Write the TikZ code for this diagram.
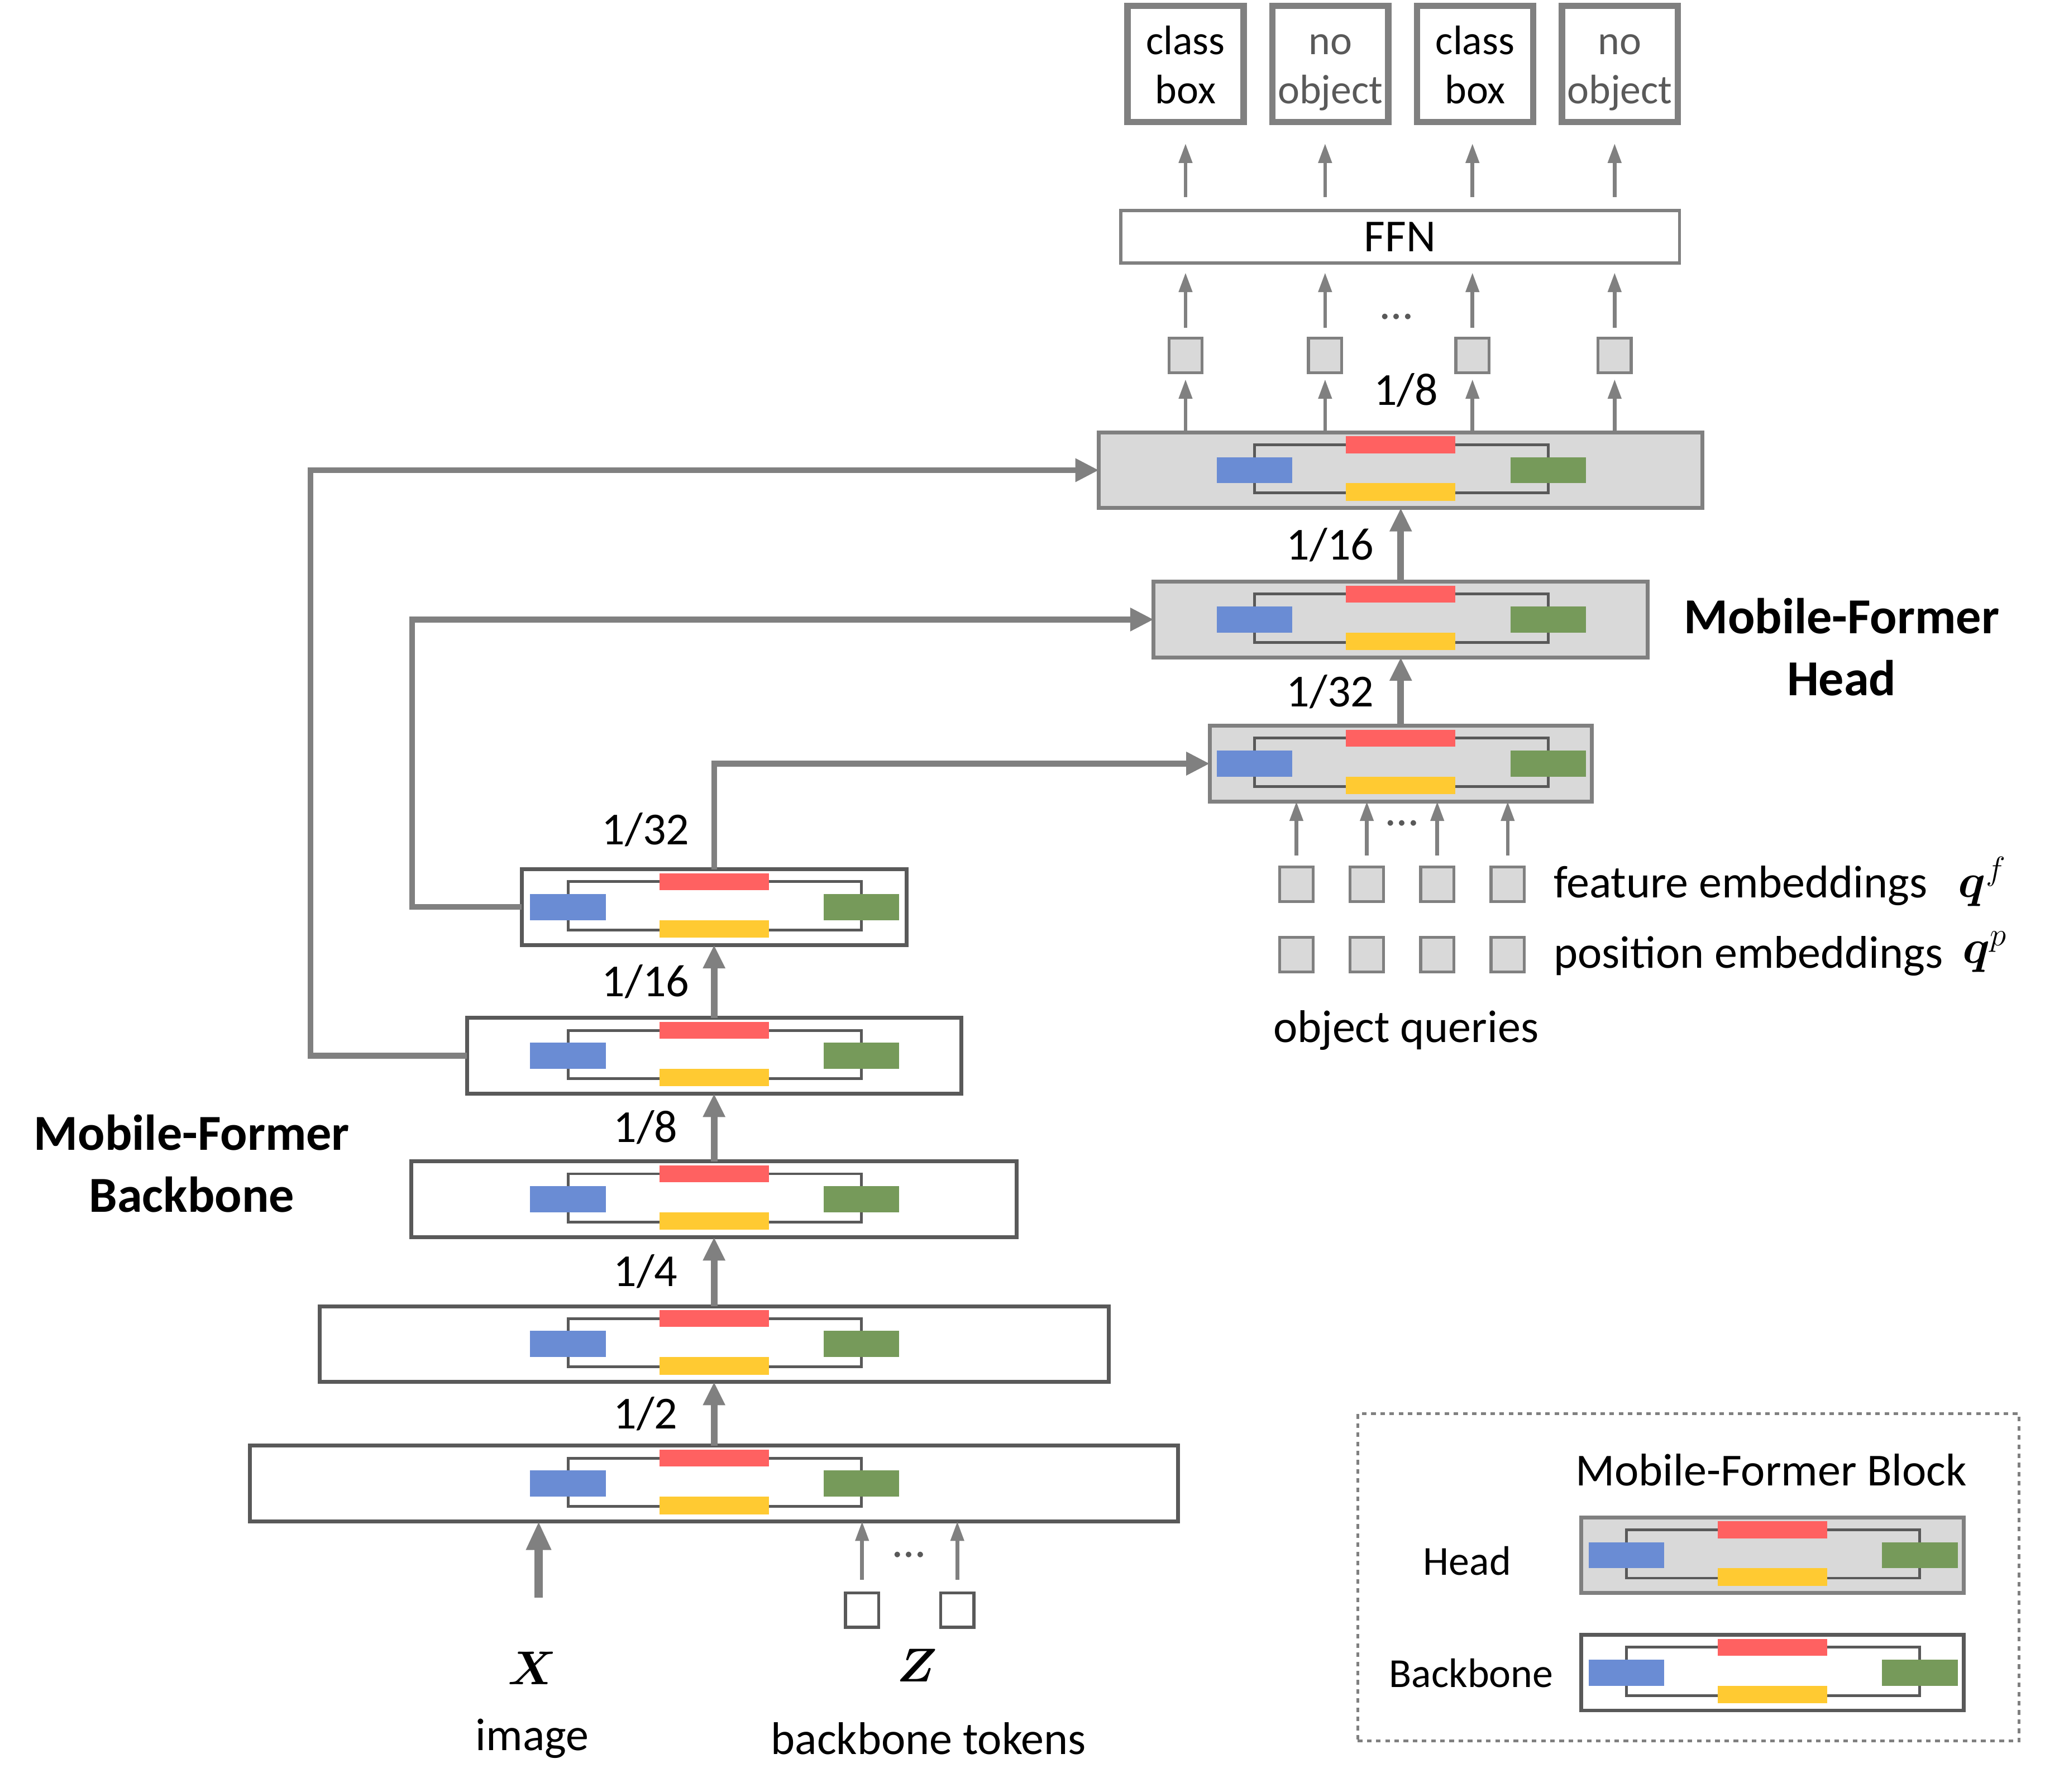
\documentclass[tikz,border=0pt]{standalone}
\usepackage{amsmath}
\usepackage{fontspec}
\setmainfont{Carlito}
\usepackage{tikz}
\usetikzlibrary{positioning}
\usetikzlibrary{arrows.meta}

\definecolor{mfblue}{RGB}{106,140,212}
\definecolor{mfred}{RGB}{255,97,97}
\definecolor{mfyellow}{RGB}{255,202,50}
\definecolor{mfgreen}{RGB}{118,154,90}
\definecolor{darkline}{RGB}{89,89,89}
\definecolor{midgray}{RGB}{128,128,128}
\definecolor{lightfill}{RGB}{217,217,217}

% inside of one Mobile-Former block, drawn round the block node #1
\newcommand{\mfinner}[1]{
    \draw[line width = 1.2pt, darkline] ([shift={(-112,-19.5)}]#1.center) rectangle ([shift={(113,17.5)}]#1.center);
    \fill[mfred] ([shift={(-42,-26)}]#1.center) rectangle ([shift={(42,-13)}]#1.center);
    \fill[mfyellow] ([shift={(-42,10)}]#1.center) rectangle ([shift={(42,23.5)}]#1.center);
    \fill[mfblue] ([shift={(-141,-10)}]#1.center) rectangle ([shift={(-83,10)}]#1.center);
    \fill[mfgreen] ([shift={(84,-10)}]#1.center) rectangle ([shift={(142,10)}]#1.center);
}
% two lines in an output box
\newcommand{\outtext}[2]{\rule{0pt}{19.6pt}#1\\#2\strut}

\begin{document}
\begin{tikzpicture}[
        x = 0.02cm, y = -0.02cm,
        bbblock/.style = {
            draw = darkline,
            line width = 1.7pt,
            fill = white,
            minimum height = 1.16cm,
            inner sep = 0pt,
            outer sep = 0pt
        },
        headblock/.style = {
            draw = midgray,
            line width = 1.7pt,
            fill = lightfill,
            minimum height = 1.16cm,
            inner sep = 0pt,
            outer sep = 0pt
        },
        token/.style = {
            draw = #1,
            line width = 1.3pt,
            fill = lightfill,
            minimum width = 0.51cm,
            minimum height = 0.53cm,
            inner sep = 0pt,
            outer sep = 0pt
        },
        token/.default = midgray,
        outbox/.style = {
            draw = midgray,
            line width = 2.8pt,
            minimum size = 1.78cm,
            inner sep = 0pt,
            align = center,
            font = \fontsize{18}{21.6}\selectfont
        },
        thinarrow/.style = {-{Triangle[length = 0.3cm, width = 0.2cm]}, line width = 1.6pt, midgray},
        thickarrow/.style = {-{Triangle[length = 0.36cm, width = 0.32cm]}, line width = 3pt, midgray},
        linkarrow/.style = {-{Triangle[length = 0.36cm, width = 0.34cm]}, line width = 2.5pt, midgray},
        txt/.style = {font = \fontsize{20}{24}\selectfont, text = black, inner sep = 0pt},
        smalltxt/.style = {font = \fontsize{18}{22}\selectfont, text = black, inner sep = 0pt},
        dots/.style = {font = \fontsize{20}{24}\selectfont, text = darkline, inner sep = 0pt},
        headline/.style = {font = \bfseries\fontsize{22}{27}\selectfont, align = center, inner sep = 0pt}
        ]
        \useasboundingbox (0,0) rectangle (1568,1374);
%
% backbone blocks
        \node[bbblock, minimum width = 14.24cm] (b1) at (547.5,1137.5) {};
        \node[bbblock, minimum width = 12.1cm] (b2) at (547.5,1030.5) {};
        \node[bbblock, minimum width = 9.28cm] (b3) at (547.5,919.5) {};
        \node[bbblock, minimum width = 7.58cm] (b4) at (547.5,809.5) {};
        \node[bbblock, minimum width = 5.9cm] (b5) at (547.5,695.5) {};
%
% head blocks
        \node[headblock, minimum width = 5.86cm] (h1) at (1074,585.5) {};
        \node[headblock, minimum width = 7.58cm] (h2) at (1074,475) {};
        \node[headblock, minimum width = 9.26cm] (h3) at (1074,360.5) {};
%
        \mfinner{b1}
        \mfinner{b2}
        \mfinner{b3}
        \mfinner{b4}
        \mfinner{b5}
        \mfinner{h1}
        \mfinner{h2}
        \mfinner{h3}
%
        \node[headline] (bbtitle) at (147,892) {Mobile-Former\\Backbone};
        \node[headline] (hdtitle) at (1412,496) {Mobile-Former\\Head};
%
% strides along the backbone
        \draw[thickarrow] (b1.north) -- (b2.south) node[txt, midway, xshift = -1.05cm] {1/2};
        \draw[thickarrow] (b2.north) -- (b3.south) node[txt, midway, xshift = -1.05cm] {1/4};
        \draw[thickarrow] (b3.north) -- (b4.south) node[txt, midway, xshift = -1.05cm] {1/8};
        \draw[thickarrow] (b4.north) -- (b5.south) node[txt, midway, xshift = -1.05cm] {1/16};
        \node[txt] (s32) at (495,636) {1/32};
%
        \draw[thickarrow] (h1.north) -- (h2.south) node[txt, midway, xshift = -1.08cm] {1/32};
        \draw[thickarrow] (h2.north) -- (h3.south) node[txt, midway, xshift = -1.08cm] {1/16};
%
% backbone to head
        \draw[linkarrow] (b5.north) |- (h1.west);
        \draw[linkarrow] (b5.west) -- ++(-84,0) |- (h2.west);
        \draw[linkarrow] (b4.west) -- ++(-120,0) |- (h3.west);
%
% inputs of the backbone
        \coordinate (xin) at (413,1225);
        \draw[-{Triangle[length = 0.44cm, width = 0.36cm]}, line width = 3.5pt, midgray] (xin) -- (xin |- b1.south);
        \node[token = darkline, fill = white] (z1) at (661,1234.5) {};
        \node[token = darkline, fill = white] (z2) at (734,1234.5) {};
        \draw[thinarrow, shorten <= 0.2cm] (z1.north) -- (z1 |- b1.south);
        \draw[thinarrow, shorten <= 0.2cm] (z2.north) -- (z2 |- b1.south);
        \node[dots] (zdots) at (697,1192) {\ldots};
%
        \node[txt] (xsym) at (408,1279) {$\boldsymbol{X}$};
        \node[txt] (zsym) at (703,1277) {$\boldsymbol{Z}$};
        \node[txt] (image) at (408,1333) {image};
        \node[txt] (tokens) at (712,1333) {backbone tokens};
%
% object queries
        \node[token] (qf1) at (994,678) {};
        \node[token] (qf2) at (1048,678) {};
        \node[token] (qf3) at (1102,678) {};
        \node[token] (qf4) at (1156,678) {};
        \node[token] (qp1) at (994,732) {};
        \node[token] (qp2) at (1048,732) {};
        \node[token] (qp3) at (1102,732) {};
        \node[token] (qp4) at (1156,732) {};
%
        \draw[thinarrow, shorten <= 0.18cm] (qf1.north) -- (qf1 |- h1.south);
        \draw[thinarrow, shorten <= 0.18cm] (qf2.north) -- (qf2 |- h1.south);
        \draw[thinarrow, shorten <= 0.18cm] (qf3.north) -- (qf3 |- h1.south);
        \draw[thinarrow, shorten <= 0.18cm] (qf4.north) -- (qf4 |- h1.south);
        \node[dots] (qdots) at (1075,631) {\ldots};
%
        \node[txt, anchor = west] (feat) at (1191,679) {feature embeddings};
        \node[txt] (qfsym) at (1520,676) {$\boldsymbol{q}^{f}$};
        \node[txt, anchor = west] (pos) at (1191,733) {position embeddings};
        \node[txt] (qpsym) at (1522,730) {$\boldsymbol{q}^{p}$};
        \node[txt] (queries) at (1078,790) {object queries};
%
% outputs of the head
        \node[token] (t1) at (909,272.5) {};
        \node[token] (t2) at (1016,272.5) {};
        \node[token] (t3) at (1129,272.5) {};
        \node[token] (t4) at (1238,272.5) {};
        \node[txt] (s8) at (1078,299) {1/8};
%
        \draw[thinarrow, shorten >= 0.1cm] (t1 |- h3.north) -- (t1.south);
        \draw[thinarrow, shorten >= 0.1cm] (t2 |- h3.north) -- (t2.south);
        \draw[thinarrow, shorten >= 0.1cm] (t3 |- h3.north) -- (t3.south);
        \draw[thinarrow, shorten >= 0.1cm] (t4 |- h3.north) -- (t4.south);
%
        \node[draw = midgray, line width = 1.4pt, minimum width = 8.57cm, minimum height = 0.81cm, txt] (ffn) at (1073.5,181.5) {FFN};
        \node[dots] (tdots) at (1071,243) {\ldots};
%
        \draw[thinarrow, shorten <= 0.16cm, shorten >= 0.12cm] (t1.north) -- (t1 |- ffn.south);
        \draw[thinarrow, shorten <= 0.16cm, shorten >= 0.12cm] (t2.north) -- (t2 |- ffn.south);
        \draw[thinarrow, shorten <= 0.16cm, shorten >= 0.12cm] (t3.north) -- (t3 |- ffn.south);
        \draw[thinarrow, shorten <= 0.16cm, shorten >= 0.12cm] (t4.north) -- (t4 |- ffn.south);
%
        \node[outbox] (out1) at (909,49) {\outtext{class}{box}};
        \node[outbox, text = darkline] (out2) at (1020,49) {\outtext{no}{object}};
        \node[outbox] (out3) at (1131,49) {\outtext{class}{box}};
        \node[outbox, text = darkline] (out4) at (1242,49) {\outtext{no}{object}};
%
        \draw[thinarrow, shorten <= 0.18cm, shorten >= 0.28cm] (t1 |- ffn.north) -- (t1 |- out1.south);
        \draw[thinarrow, shorten <= 0.18cm, shorten >= 0.28cm] (t2 |- ffn.north) -- (t2 |- out2.south);
        \draw[thinarrow, shorten <= 0.18cm, shorten >= 0.28cm] (t3 |- ffn.north) -- (t3 |- out3.south);
        \draw[thinarrow, shorten <= 0.18cm, shorten >= 0.28cm] (t4 |- ffn.north) -- (t4 |- out4.south);
%
% legend
        \node[draw = midgray, line width = 1.2pt, dash pattern = on 2pt off 2pt, minimum width = 10.14cm, minimum height = 5.02cm] (legend) at (1294.5,1209.5) {};
        \node[txt] (legtitle) at (1358,1127) {Mobile-Former Block};
        \node[headblock, minimum width = 5.86cm] (leghead) at (1359,1192.5) {};
        \node[bbblock, minimum width = 5.86cm] (legbb) at (1359,1282.5) {};
        \mfinner{leghead}
        \mfinner{legbb}
        \node[smalltxt] (legh) at (1125,1197) {Head};
        \node[smalltxt] (legb) at (1128,1283) {Backbone};
%
    \end{tikzpicture}
\end{document}
